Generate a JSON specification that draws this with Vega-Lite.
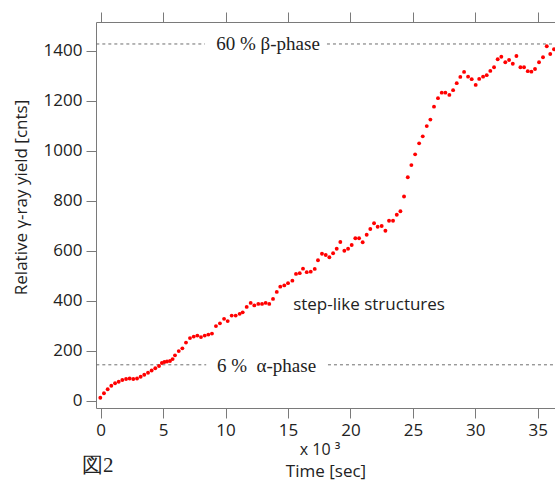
{
  "$schema": "https://vega.github.io/schema/vega-lite/v6.json",
  "width": 459,
  "height": 386,
  "autosize": {"type": "none"},
  "padding": {"left": 96, "top": 22, "right": 0, "bottom": 78},
  "background": "white",
  "config": {
    "view": {"stroke": null},
    "font": "Open Sans",
    "axis": {
      "domainColor": "#7a7a7a",
      "tickColor": "#7a7a7a",
      "tickSize": 10,
      "domainWidth": 1,
      "tickWidth": 1,
      "grid": false,
      "labelFont": "Open Sans",
      "labelFontSize": 17,
      "labelColor": "#222222",
      "labelPadding": 4,
      "titleFont": "Open Sans",
      "titleFontSize": 17,
      "titleFontWeight": "normal",
      "titleColor": "#222222"
    }
  },
  "datasets": {
    "yield": [
      {"t": -0.03, "v": 11}, {"t": 0.26, "v": 29}, {"t": 0.56, "v": 45}, {"t": 0.85, "v": 59},
      {"t": 1.15, "v": 69}, {"t": 1.44, "v": 75}, {"t": 1.73, "v": 82}, {"t": 2.03, "v": 86},
      {"t": 2.32, "v": 88}, {"t": 2.61, "v": 86}, {"t": 2.91, "v": 88}, {"t": 3.2, "v": 95},
      {"t": 3.49, "v": 103}, {"t": 3.79, "v": 111}, {"t": 4.08, "v": 120}, {"t": 4.37, "v": 129},
      {"t": 4.67, "v": 138}, {"t": 4.9, "v": 150}, {"t": 5.1, "v": 154}, {"t": 5.31, "v": 156},
      {"t": 5.55, "v": 158}, {"t": 5.76, "v": 166}, {"t": 5.95, "v": 181}, {"t": 6.25, "v": 198},
      {"t": 6.54, "v": 209}, {"t": 6.83, "v": 232}, {"t": 7.15, "v": 250}, {"t": 7.45, "v": 256},
      {"t": 7.74, "v": 260}, {"t": 8.03, "v": 254}, {"t": 8.33, "v": 260}, {"t": 8.62, "v": 264},
      {"t": 8.91, "v": 268}, {"t": 9.23, "v": 298}, {"t": 9.55, "v": 309}, {"t": 9.88, "v": 327},
      {"t": 10.17, "v": 318}, {"t": 10.49, "v": 340}, {"t": 10.81, "v": 340}, {"t": 11.13, "v": 347},
      {"t": 11.37, "v": 353}, {"t": 11.69, "v": 375}, {"t": 12.01, "v": 391}, {"t": 12.3, "v": 381},
      {"t": 12.62, "v": 387}, {"t": 12.92, "v": 387}, {"t": 13.21, "v": 391}, {"t": 13.5, "v": 387},
      {"t": 13.8, "v": 407}, {"t": 14.1, "v": 435}, {"t": 14.38, "v": 456}, {"t": 14.7, "v": 461},
      {"t": 15.0, "v": 470}, {"t": 15.35, "v": 480}, {"t": 15.64, "v": 507}, {"t": 15.94, "v": 510},
      {"t": 16.2, "v": 528}, {"t": 16.5, "v": 514}, {"t": 16.82, "v": 516}, {"t": 17.14, "v": 527},
      {"t": 17.4, "v": 562}, {"t": 17.72, "v": 588}, {"t": 18.02, "v": 583}, {"t": 18.31, "v": 574},
      {"t": 18.61, "v": 590}, {"t": 18.9, "v": 608}, {"t": 19.19, "v": 635}, {"t": 19.51, "v": 600},
      {"t": 19.81, "v": 608}, {"t": 20.1, "v": 623}, {"t": 20.39, "v": 650}, {"t": 20.69, "v": 650},
      {"t": 20.98, "v": 634}, {"t": 21.3, "v": 664}, {"t": 21.59, "v": 687}, {"t": 21.89, "v": 710},
      {"t": 22.18, "v": 696}, {"t": 22.5, "v": 699}, {"t": 22.8, "v": 680}, {"t": 23.09, "v": 720},
      {"t": 23.41, "v": 720}, {"t": 23.71, "v": 744}, {"t": 24.0, "v": 758}, {"t": 24.29, "v": 817},
      {"t": 24.59, "v": 894}, {"t": 24.88, "v": 943}, {"t": 25.18, "v": 986}, {"t": 25.5, "v": 1030},
      {"t": 25.79, "v": 1058}, {"t": 26.11, "v": 1099}, {"t": 26.4, "v": 1125}, {"t": 26.69, "v": 1177},
      {"t": 27.01, "v": 1211}, {"t": 27.31, "v": 1233}, {"t": 27.6, "v": 1233}, {"t": 27.92, "v": 1224},
      {"t": 28.22, "v": 1243}, {"t": 28.51, "v": 1271}, {"t": 28.8, "v": 1296}, {"t": 29.1, "v": 1316},
      {"t": 29.42, "v": 1297}, {"t": 29.71, "v": 1287}, {"t": 30.03, "v": 1264}, {"t": 30.31, "v": 1288},
      {"t": 30.62, "v": 1297}, {"t": 30.91, "v": 1303}, {"t": 31.2, "v": 1320}, {"t": 31.5, "v": 1335},
      {"t": 31.79, "v": 1367}, {"t": 32.08, "v": 1377}, {"t": 32.4, "v": 1355}, {"t": 32.7, "v": 1364},
      {"t": 33.0, "v": 1349}, {"t": 33.29, "v": 1380}, {"t": 33.61, "v": 1335}, {"t": 33.9, "v": 1335},
      {"t": 34.2, "v": 1319}, {"t": 34.49, "v": 1317}, {"t": 34.78, "v": 1328}, {"t": 35.1, "v": 1355},
      {"t": 35.42, "v": 1375}, {"t": 35.72, "v": 1419}, {"t": 36.0, "v": 1388}, {"t": 36.3, "v": 1407}
    ],
    "dashes": [
      {"t": -0.35, "t2": 8.35, "v": 1428},
      {"t": 18.12, "t2": 36.4, "v": 1428},
      {"t": -0.35, "t2": 8.45, "v": 143},
      {"t": 18.2, "t2": 36.4, "v": 143}
    ],
    "phases": [
      {"t": 13.4, "v": 1428, "label": "60 % β-phase"},
      {"t": 13.28, "v": 140, "label": "6 %\u00a0 α-phase"}
    ],
    "notes": [
      {"t": 21.49, "v": 383, "label": "step-like structures", "size": 17},
      {"t": 17.56, "v": -200, "label": "x 10 ³", "size": 16}
    ],
    "fig": [
      {"t": -1.5, "v": -262, "label": "図2"}
    ]
  },
  "layer": [
    {
      "data": {"name": "dashes"},
      "mark": {"type": "rule", "color": "#6e6e6e", "strokeWidth": 1, "strokeDash": [3, 3]},
      "encoding": {
        "x": {
          "field": "t", "type": "quantitative",
          "scale": {"domain": [-0.376, 36.38], "nice": false, "zero": false},
          "axis": {"orient": "top", "values": [0, 5, 10, 15, 20, 25, 30, 35], "labels": false, "title": null, "ticks": true, "domain": true}
        },
        "x2": {"field": "t2"},
        "y": {"field": "v", "type": "quantitative"}
      }
    },
    {
      "data": {"name": "yield"},
      "mark": {"type": "circle", "color": "#ff0000", "size": 15, "opacity": 1},
      "encoding": {
        "x": {
          "field": "t", "type": "quantitative",
          "scale": {"domain": [-0.376, 36.38], "nice": false, "zero": false},
          "axis": {"orient": "bottom", "values": [0, 5, 10, 15, 20, 25, 30, 35], "title": "Time [sec]", "titleBaseline": "middle", "titleY": 63}
        },
        "y": {
          "field": "v", "type": "quantitative",
          "scale": {"domain": [-30, 1516], "nice": false, "zero": false},
          "axis": {"values": [0, 200, 400, 600, 800, 1000, 1200, 1400], "format": "d", "title": "Relative γ-ray yield [cnts]", "titlePadding": 13, "titleY": 175}
        }
      }
    },
    {
      "data": {"name": "phases"},
      "mark": {"type": "text", "font": "Liberation Serif", "fontSize": 19, "color": "#222222", "align": "center", "baseline": "middle"},
      "encoding": {
        "x": {"field": "t", "type": "quantitative", "axis": null},
        "y": {"field": "v", "type": "quantitative"},
        "text": {"field": "label"}
      }
    },
    {
      "data": {"name": "notes"},
      "mark": {"type": "text", "font": "Open Sans", "color": "#222222", "align": "center", "baseline": "middle"},
      "encoding": {
        "x": {"field": "t", "type": "quantitative", "axis": null},
        "y": {"field": "v", "type": "quantitative"},
        "text": {"field": "label"},
        "size": {"field": "size", "type": "quantitative", "scale": null, "legend": null}
      }
    },
    {
      "data": {"name": "fig"},
      "mark": {"type": "text", "font": "Liberation Serif", "fontSize": 21, "color": "#222222", "align": "left", "baseline": "middle"},
      "encoding": {
        "x": {"field": "t", "type": "quantitative", "axis": null},
        "y": {"field": "v", "type": "quantitative"},
        "text": {"field": "label"}
      }
    }
  ],
  "resolve": {"axis": {"x": "independent"}}
}
